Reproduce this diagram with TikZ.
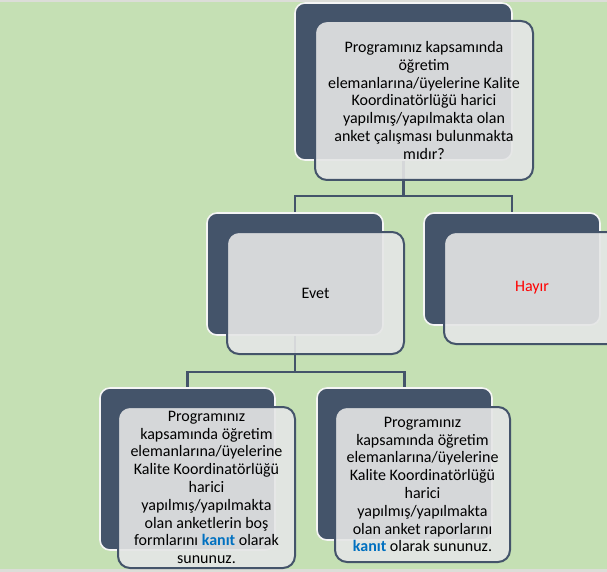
\documentclass[tikz,border=0pt]{standalone}
\usepackage{fontspec}
\setmainfont{Carlito}
\definecolor{bgreen}{HTML}{C5E0B4}
\definecolor{dblue}{HTML}{44546A}
\definecolor{fgray}{HTML}{E5E6E6}
\definecolor{strip}{HTML}{DCDDD8}
\definecolor{kblue}{HTML}{0070C0}
\definecolor{hred}{HTML}{FF0000}
\newcommand{\kanit}{\textcolor{kblue}{\textbf{kanıt}}}
\tikzset{
  backbox/.style={draw=white!92!gray, line width=1.6pt, fill=dblue, rounded corners=10pt, inner sep=0pt},
  frontbox/.style={draw=dblue, line width=2pt, fill=fgray, fill opacity=0.9, text opacity=1, rounded corners=12pt, inner sep=0pt, align=center, font=\fontsize{16}{17.8}\selectfont},
  conn/.style={draw=dblue, line width=2.6pt}
}
\begin{document}
\begin{tikzpicture}[x=1pt,y=-1pt]
\useasboundingbox (0,0) rectangle (607,572);
\clip (0,0) rectangle (607,572);
\fill[bgreen] (0,0) rectangle (607,572);
\fill[strip] (0,0) rectangle (607,2.5);
\fill[strip] (0,569) rectangle (607,572);
% back boxes
\node[backbox, minimum width=217pt, minimum height=157pt] (b1) at (403.5,81.5) {};
\node[backbox, minimum width=176pt, minimum height=122pt] (b2) at (295,274) {};
\node[backbox, minimum width=176pt, minimum height=112pt] (b3) at (512,269) {};
\node[backbox, minimum width=175pt, minimum height=162pt] (b4) at (187.5,469) {};
\node[backbox, minimum width=175pt, minimum height=152pt] (b5) at (404.5,464) {};
% connectors
\coordinate (j1) at (403.5,196);
\coordinate (j2) at (295,372);
\draw[conn] (b1.south) -- (j1);
\draw[conn] (j1) -| (b2.north);
\draw[conn] (j1) -| (b3.north);
\draw[conn] (b2.south) -- (j2);
\draw[conn] (j2) -| (b4.north);
\draw[conn] (j2) -| (b5.north);
% front boxes
\node[frontbox, minimum width=218pt, minimum height=159pt] (f1) at (424,100.5) {Programınız kapsamında\\öğretim\\elemanlarına/üyelerine Kalite\\Koordinatörlüğü harici\\yapılmış/yapılmakta olan\\anket çalışması bulunmakta\\mıdır?};
\node[frontbox, minimum width=177pt, minimum height=122pt] (f2) at (315.5,293) {Evet};
\node[frontbox, minimum width=176pt, minimum height=112pt] (f3) at (532,288) {\textcolor{hred}{Hayır}};
\node[frontbox, minimum width=177pt, minimum height=161pt] (f4) at (206.5,487.5) {Programınız\\kapsamında öğretim\\elemanlarına/üyelerine\\Kalite Koordinatörlüğü\\harici\\yapılmış/yapılmakta\\olan anketlerin boş\\formlarını \kanit{} olarak\\sununuz.};
\node[frontbox, minimum width=175pt, minimum height=155pt] (f5) at (422.5,484.5) {Programınız\\kapsamında öğretim\\elemanlarına/üyelerine\\Kalite Koordinatörlüğü\\harici\\yapılmış/yapılmakta\\olan anket raporlarını\\\kanit{} olarak sununuz.};
\end{tikzpicture}
\end{document}
